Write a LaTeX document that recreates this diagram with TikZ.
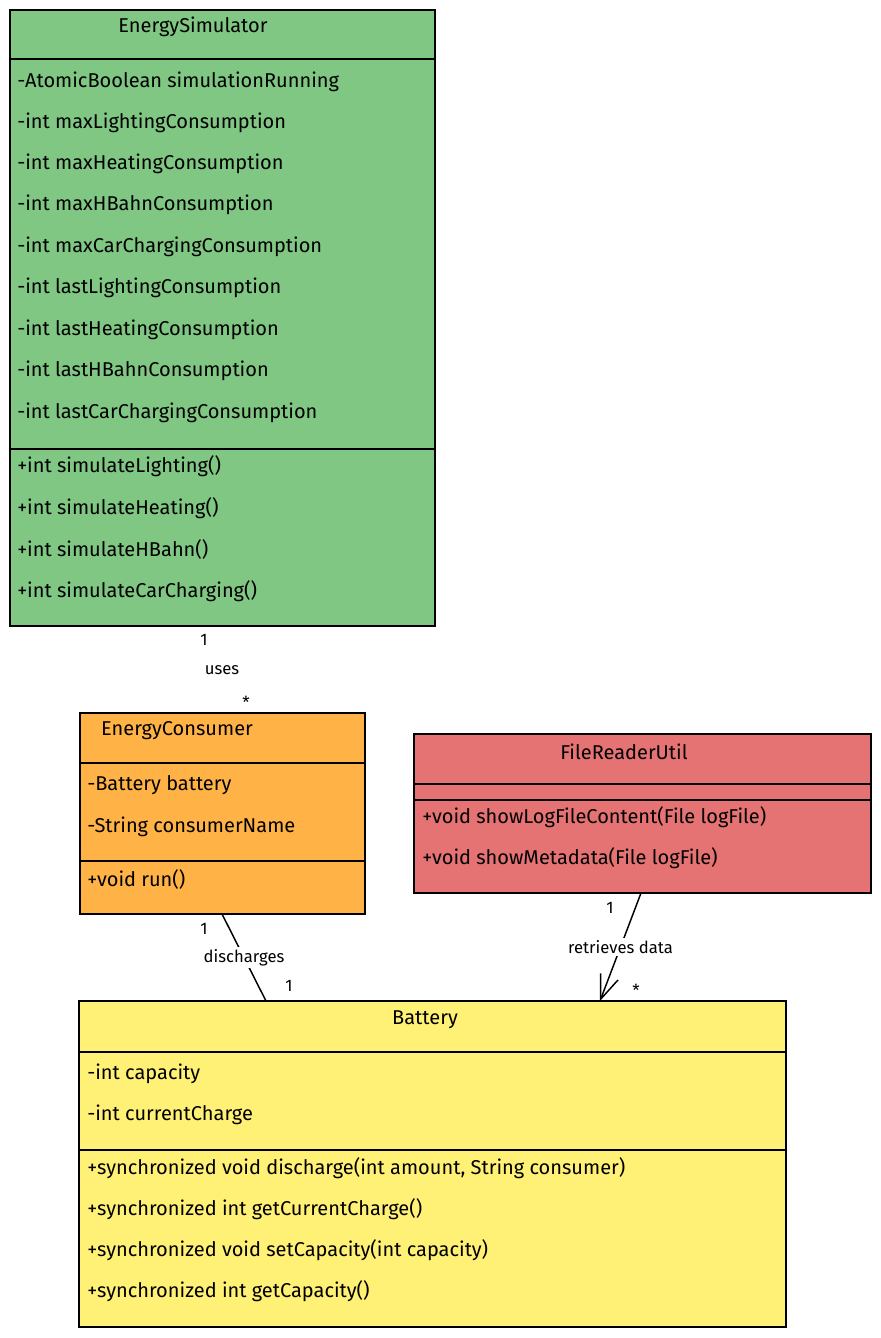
\documentclass[tikz,border=0pt]{standalone}
\usepackage{fontspec}
\setmainfont{Fira Sans}
\usetikzlibrary{fit,arrows.meta}
\definecolor{simgreen}{RGB}{128,199,131}
\definecolor{conorange}{RGB}{255,179,71}
\definecolor{frured}{RGB}{229,115,115}
\definecolor{batyellow}{RGB}{255,240,118}

\begin{document}
\begin{tikzpicture}[x=0.75pt,y=-0.75pt]
\tikzstyle{every node}=[font=\fontsize{15}{18}\selectfont, inner sep=0pt]
\tikzstyle{classbox}=[draw=black, line width=1.1pt, inner sep=0pt]
\tikzstyle{member}=[anchor=west]
\tikzstyle{lbl}=[font=\fontsize{12.5}{15}\selectfont]
\tikzstyle{rel}=[line width=1.1pt]
\useasboundingbox (0,0) rectangle (881,1338);
% EnergySimulator
    \node[classbox, fill=simgreen, fit={(10,10) (435,626)}] (sim) {};
    \node (simT) at (193,27) {EnergySimulator};
    \draw[line width=0.8pt] (10,59) -- (435,59);
    \node[member] (simA1) at (17,82) {-AtomicBoolean simulationRunning};
    \node[member] (simA2) at (17,123) {-int maxLightingConsumption};
    \node[member] (simA3) at (17,164) {-int maxHeatingConsumption};
    \node[member] (simA4) at (17,205) {-int maxHBahnConsumption};
    \node[member] (simA5) at (17,247) {-int maxCarChargingConsumption};
    \node[member] (simA6) at (17,288) {-int lastLightingConsumption};
    \node[member] (simA7) at (17,330) {-int lastHeatingConsumption};
    \node[member] (simA8) at (17,371) {-int lastHBahnConsumption};
    \node[member] (simA9) at (17,413) {-int lastCarChargingConsumption};
    \draw[line width=0.8pt] (10,449) -- (435,449);
    \node[member] (simM1) at (17,466) {+int simulateLighting()};
    \node[member] (simM2) at (17,508) {+int simulateHeating()};
    \node[member] (simM3) at (17,549) {+int simulateHBahn()};
    \node[member] (simM4) at (17,591) {+int simulateCarCharging()};
% EnergyConsumer
    \node[classbox, fill=conorange, fit={(80,713) (365,914)}] (con) {};
    \node (conT) at (177,731) {EnergyConsumer};
    \draw[line width=0.8pt] (80,763) -- (365,763);
    \node[member] (conA1) at (87,785) {-Battery battery};
    \node[member] (conA2) at (87,827) {-String consumerName};
    \draw[line width=0.8pt] (80,861) -- (365,861);
    \node[member] (conM1) at (87,879) {+void run()};
% FileReaderUtil
    \node[classbox, fill=frured, fit={(414,734) (871,893)}] (fru) {};
    \node (fruT) at (624,752) {FileReaderUtil};
    \draw[line width=0.8pt] (414,784) -- (871,784);
    \draw[line width=0.8pt] (414,800) -- (871,800);
    \node[member] (fruM1) at (422,817) {+void showLogFileContent(File logFile)};
    \node[member] (fruM2) at (422,858) {+void showMetadata(File logFile)};
% Battery
    \node[classbox, fill=batyellow, fit={(79,1001) (786,1327)}] (bat) {};
    \node (batT) at (425,1020) {Battery};
    \draw[line width=0.8pt] (79,1052) -- (786,1052);
    \node[member] (batA1) at (87,1074) {-int capacity};
    \node[member] (batA2) at (87,1115) {-int currentCharge};
    \draw[line width=0.8pt] (79,1150) -- (786,1150);
    \node[member] (batM1) at (87,1168) {+synchronized void discharge(int amount, String consumer)};
    \node[member] (batM2) at (87,1209) {+synchronized int getCurrentCharge()};
    \node[member] (batM3) at (87,1250) {+synchronized void setCapacity(int capacity)};
    \node[member] (batM4) at (87,1291) {+synchronized int getCapacity()};
% uses
    \node[lbl] (usesA) at (204,640) {1};
    \node[lbl] (usesL) at (222,670) {uses};
    \node[lbl] (usesB) at (246,702) {*};
% discharges
    \coordinate (conS) at (222,914);
    \coordinate (batN1) at (266,1001);
    \draw[rel] (conS) -- node[lbl, fill=white, inner sep=2pt] (dischL) {discharges} (batN1);
    \node[lbl] (dischA) at (204,929) {1};
    \node[lbl] (dischB) at (289,986) {1};
% retrieves data
    \coordinate (fruS) at (641,893);
    \coordinate (batN2) at (600,1001);
    \draw[rel, -{Straight Barb[length=18pt,width=14pt,line width=1.1pt]}] (fruS) -- node[lbl, fill=white, inner sep=2pt] (retrL) {retrieves data} (batN2);
    \node[lbl] (retrA) at (610,908) {1};
    \node[lbl] (retrB) at (636,990) {*};
\end{tikzpicture}
\end{document}
